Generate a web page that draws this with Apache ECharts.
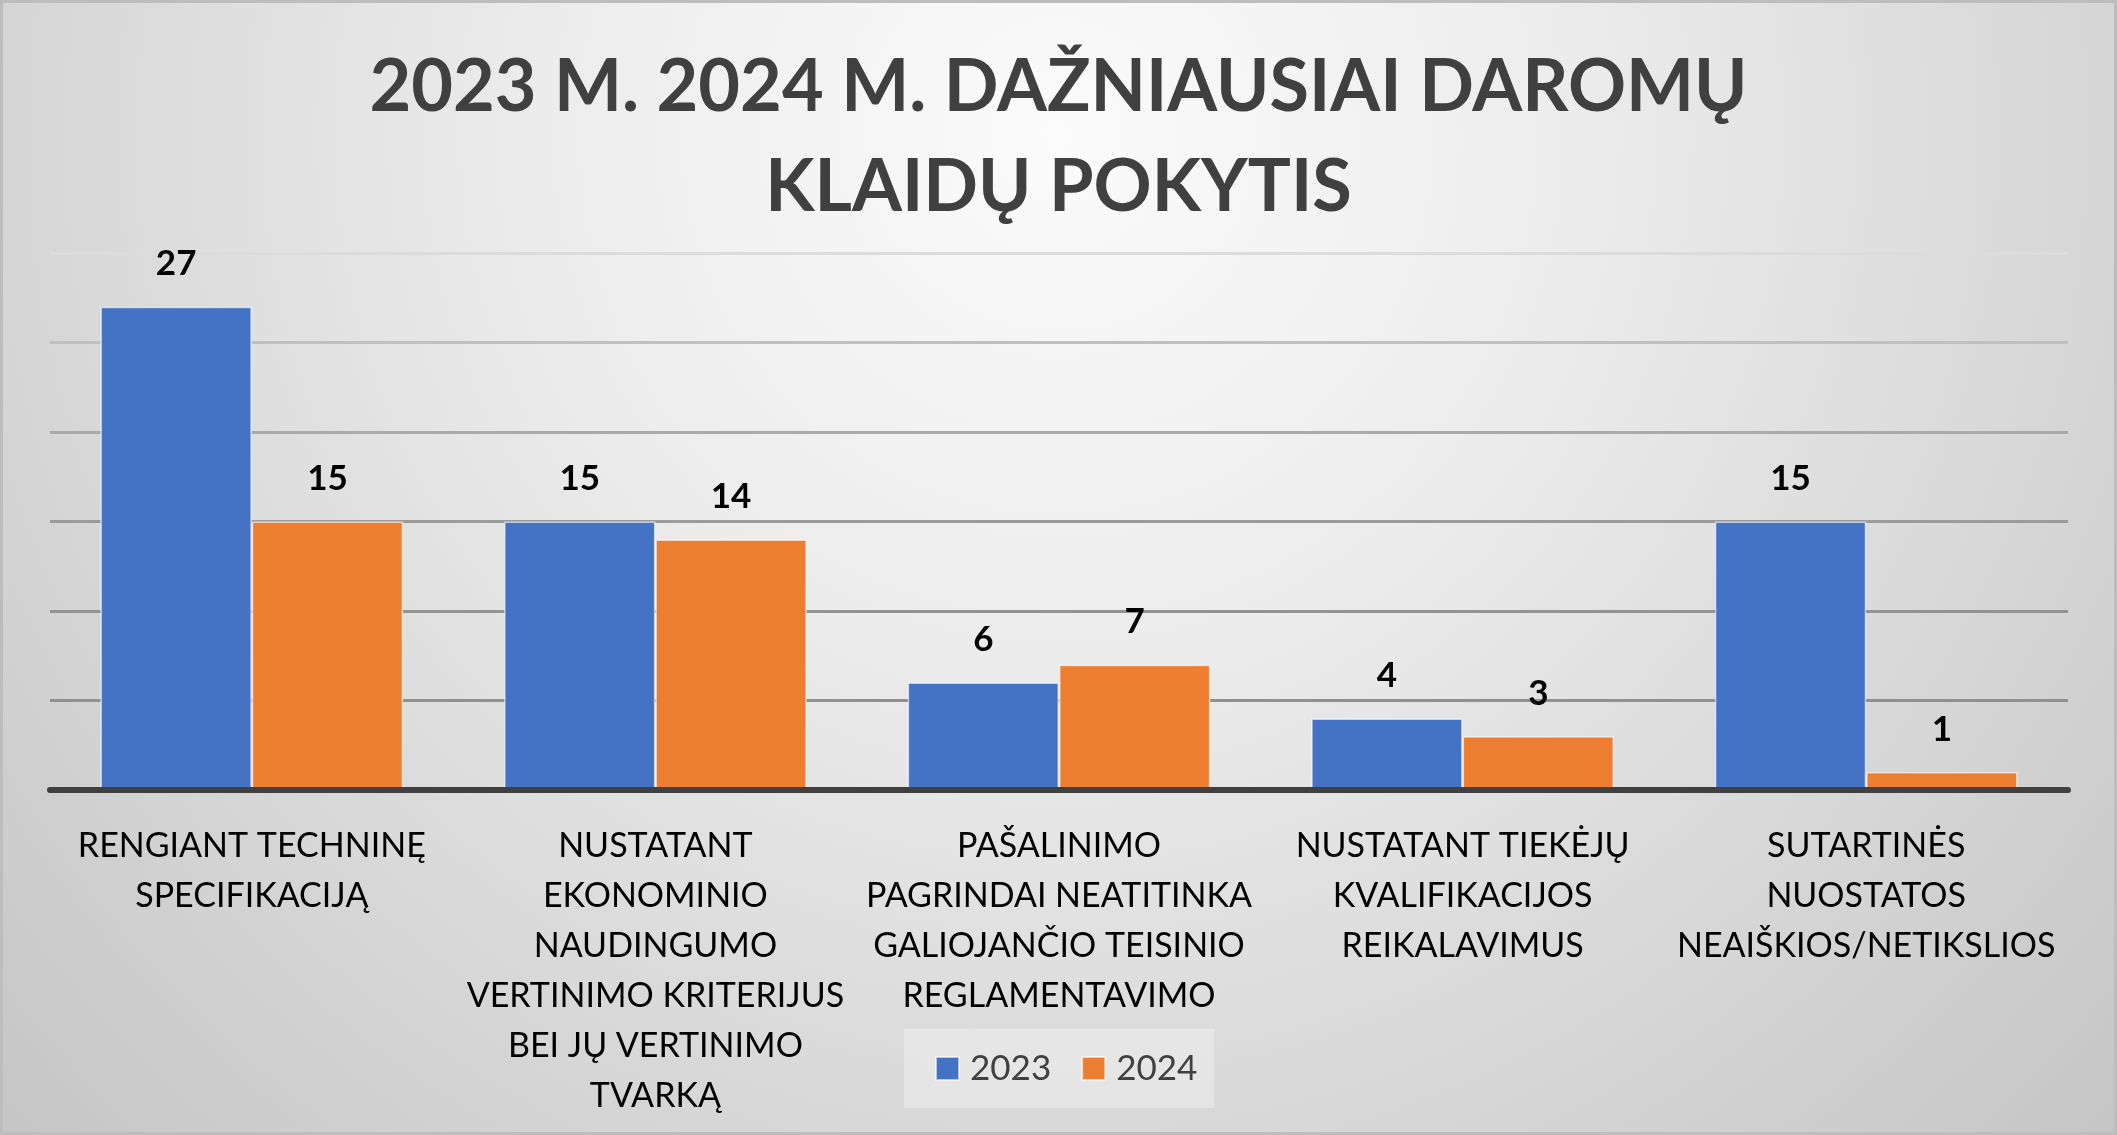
<!DOCTYPE html>
<html lang="lt">

<head>
    <meta charset="utf-8" />
    <title>Klaidų pokytis</title>
    <script src="https://cdn.jsdelivr.net/npm/echarts@6/dist/echarts.min.js"></script>
    <style>
        html,
        body {
            margin: 0;
            padding: 0;
        }

        #chart {
            width: 2117px;
            height: 1135px;
        }
    </style>
</head>

<body>
    <div id="chart"></div>

    <script>
        // duomenys
        var categories = [
            'RENGIANT TECHNINĘ\nSPECIFIKACIJĄ',
            'NUSTATANT\nEKONOMINIO\nNAUDINGUMO\nVERTINIMO KRITERIJUS\nBEI JŲ VERTINIMO\nTVARKĄ',
            'PAŠALINIMO\nPAGRINDAI NEATITINKA\nGALIOJANČIO TEISINIO\nREGLAMENTAVIMO',
            'NUSTATANT TIEKĖJŲ\nKVALIFIKACIJOS\nREIKALAVIMUS',
            'SUTARTINĖS\nNUOSTATOS\nNEAIŠKIOS/NETIKSLIOS'
        ];
        var seriesNames = ['2023', '2024'];
        var values2023 = [27, 15, 6, 4, 15];
        var values2024 = [15, 14, 7, 3, 1];

        var titleText = '2023 M. 2024 M. DAŽNIAUSIAI DAROMŲ\nKLAIDŲ POKYTIS';

        var myChart = echarts.init(document.getElementById('chart'));

        function barSeries(name, data, color) {
            return {
                name: name,
                type: 'bar',
                data: data,
                barGap: '0%',
                barCategoryGap: '25%',
                itemStyle: {
                    color: color,
                    borderColor: 'rgba(255,255,255,0.6)',
                    borderWidth: 1.5
                },
                label: {
                    show: true,
                    position: 'top',
                    distance: 25,
                    fontFamily: 'Lato',
                    fontWeight: 'bold',
                    fontSize: 35,
                    color: '#000'
                }
            };
        }

        var option = {
            backgroundColor: {
                type: 'radial',
                x: 0.5,
                y: 0.12,
                r: 1.3,
                colorStops: [
                    { offset: 0, color: '#fbfbfb' },
                    { offset: 0.35, color: '#ececec' },
                    { offset: 1, color: '#c4c4c4' }
                ]
            },
            animation: false,
            title: {
                text: titleText,
                left: 'center',
                top: 38,
                padding: 0,
                textStyle: {
                    fontFamily: 'Lato',
                    fontWeight: 'bold',
                    fontSize: 72,
                    lineHeight: 100,
                    color: '#404040'
                }
            },
            legend: {
                data: seriesNames,
                left: 904,
                top: 1029,
                icon: 'rect',
                itemWidth: 23,
                itemHeight: 23,
                itemGap: 30,
                padding: [22, 17, 22, 31],
                backgroundColor: 'rgba(255,255,255,0.3)',
                textStyle: {
                    fontFamily: 'Lato',
                    fontSize: 35,
                    lineHeight: 25,
                    color: '#404040',
                    padding: [0, 0, 0, 6]
                }
            },
            grid: {
                left: 50,
                right: 49,
                top: 253,
                bottom: 345,
                outerBoundsMode: 'none'
            },
            xAxis: {
                type: 'category',
                data: categories,
                axisTick: { show: false },
                axisLine: {
                    lineStyle: { color: '#404040', width: 6 }
                },
                axisLabel: {
                    interval: 0,
                    margin: 31,
                    fontFamily: 'Lato',
                    fontSize: 34,
                    lineHeight: 50,
                    color: '#000'
                },
                z: 5
            },
            yAxis: {
                type: 'value',
                min: 0,
                max: 30,
                interval: 5,
                axisLabel: { show: false },
                axisLine: { show: false },
                axisTick: { show: false },
                splitLine: {
                    lineStyle: {
                        width: 3,
                        color: ['rgba(0,0,0,0)', '#909090', '#939393', '#9b9b9b', '#aaaaaa', '#c0c0c0', '#dcdcdc']
                    }
                }
            },
            graphic: [{
                type: 'rect',
                shape: { x: 1.5, y: 1.5, width: 2114, height: 1132 },
                style: { fill: 'none', stroke: '#bdbdbd', lineWidth: 3 },
                silent: true
            }],
            series: [
                barSeries(seriesNames[0], values2023, '#4472c4'),
                barSeries(seriesNames[1], values2024, '#ed7d31')
            ]
        };

        myChart.setOption(option);
    </script>
</body>

</html>
